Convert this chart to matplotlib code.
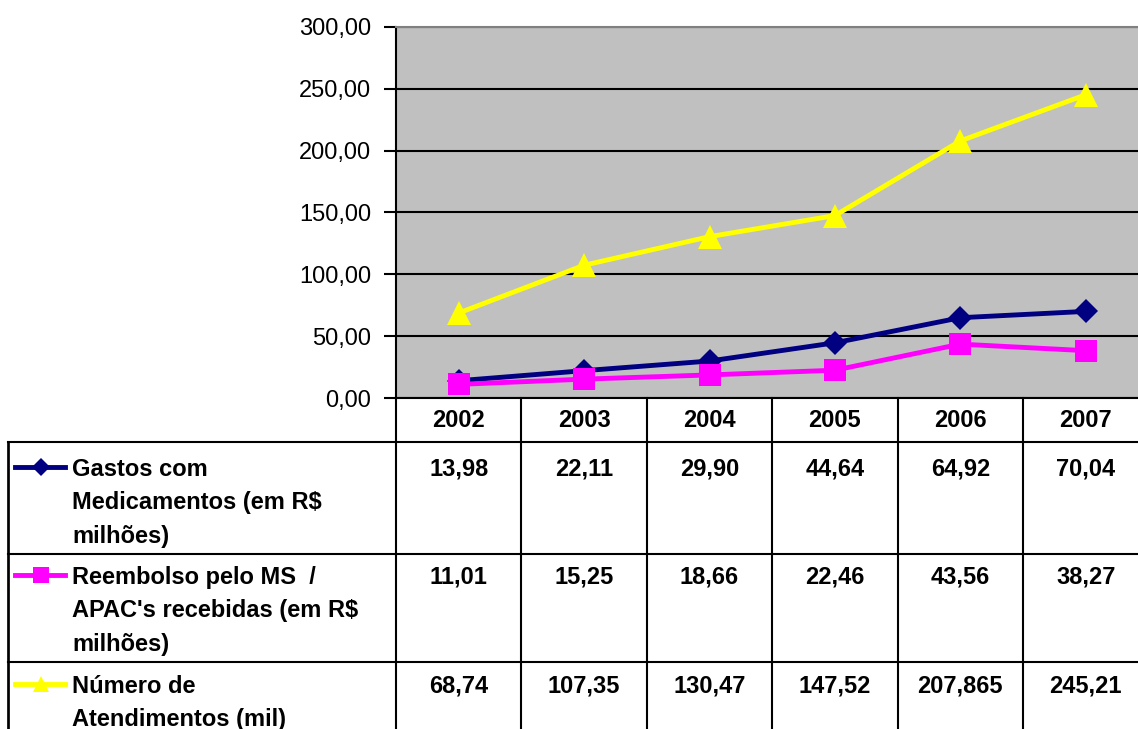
import matplotlib.pyplot as plt
import numpy as np

plt.rcParams['font.family'] = ['Liberation Sans', 'DejaVu Sans']

years = ['2002', '2003', '2004', '2005', '2006', '2007']
gastos = [13.98, 22.11, 29.90, 44.64, 64.92, 70.04]
reembolso = [11.01, 15.25, 18.66, 22.46, 43.56, 38.27]
atendimentos = [68.74, 107.35, 130.47, 147.52, 207.865, 245.21]

# labels as printed in the table (kept as typed in the sheet)
gastos_txt = ['13,98', '22,11', '29,90', '44,64', '64,92', '70,04']
reembolso_txt = ['11,01', '15,25', '18,66', '22,46', '43,56', '38,27']
atend_txt = ['68,74', '107,35', '130,47', '147,52', '207,865', '245,21']

series_names = ['Gastos com\nMedicamentos (em R$\nmilhões)',
                "Reembolso pelo MS  /\nAPAC's recebidas (em R$\nmilhões)",
                'Número de\nAtendimentos (mil)\n']

W, H = 1138, 729
COL = 125.4          # column width in px
X0 = 396             # left edge of plot area
fig = plt.figure(figsize=(W / 100, H / 100), dpi=100)

def fx(px):
    return px / W

def fy(py):
    return (H - py) / H

# main chart
ax = fig.add_axes([fx(X0), fy(398), fx(6 * COL), (398 - 27) / H])
ax.set_facecolor('#C0C0C0')
x = np.arange(len(years))
styles = [
    dict(color='#000080', marker='D', markersize=12.5),
    dict(color='#FF00FF', marker='s', markersize=16),
    dict(color='#FFFF00', marker='^', markersize=17),
]
for vals, st in zip([gastos, reembolso, atendimentos], styles):
    ax.plot(x, vals, linewidth=3.5, markeredgewidth=0, zorder=3, **st)

ax.set_xlim(-0.5, 5.5)
ax.set_ylim(0, 300)
ax.set_yticks(np.arange(0, 301, 50))
ax.set_yticklabels([f'{v:.2f}'.replace('.', ',') for v in np.arange(0, 301, 50)])
ax.set_xticks([])
ax.tick_params(axis='y', length=9, width=1.5, pad=9, labelsize=17, direction='out')
ax.grid(axis='y', color='black', linewidth=1.5)
ax.set_axisbelow(True)
for side in ['right', 'bottom']:
    ax.spines[side].set_visible(False)
ax.spines['left'].set_linewidth(1.5)
ax.spines['top'].set_color('#808080')
ax.spines['top'].set_linewidth(1.5)

# data table below the chart, x in category units
left_cat = -0.5 - (X0 - 8) / COL
tab = fig.add_axes([fx(8), fy(770), fx(X0 + 6 * COL - 8), (770 - 398) / H])
tab.set_xlim(left_cat, 5.5)
tab.set_ylim(770, 398)
tab.axis('off')

rows = [398, 442, 554, 662, 770]
lw = 1.5
for i, r in enumerate(rows):
    start = -0.5 if i == 0 else left_cat
    tab.plot([start, 5.5], [r, r], color='black', linewidth=lw, clip_on=False)
for c in range(7):
    tab.plot([c - 0.5, c - 0.5], [398, 770], color='black', linewidth=lw, clip_on=False)
tab.plot([left_cat, left_cat], [442, 770], color='black', linewidth=lw * 1.3, clip_on=False)

for i, y in enumerate(years):
    tab.text(i, 427, y, ha='center', va='baseline', fontsize=17, fontweight='bold')

value_rows = [gastos_txt, reembolso_txt, atend_txt]
baselines = [476, 584, 693]
for txts, b in zip(value_rows, baselines):
    for i, t in enumerate(txts):
        tab.text(i, b, t, ha='center', va='baseline', fontsize=17, fontweight='bold')

def px2cat(px):
    return -0.5 + (px - X0) / COL

key_styles = [
    dict(color='#000080', marker='D', markersize=9),
    dict(color='#FF00FF', marker='s', markersize=11),
    dict(color='#FFFF00', marker='^', markersize=12),
]
for name, b, st in zip(series_names, baselines, key_styles):
    ky = b - 9
    tab.plot([px2cat(15), px2cat(65)], [ky, ky], linewidth=3.5, markevery=[],
             color=st['color'])
    tab.plot([px2cat(41)], [ky], linestyle='none', markeredgewidth=0, **st)
    for j, line in enumerate(name.split('\n')):
        tab.text(px2cat(72), b + j * 33.3, line, ha='left', va='baseline',
                 fontsize=17, fontweight='bold')

fig.savefig('out.png', dpi=100)
